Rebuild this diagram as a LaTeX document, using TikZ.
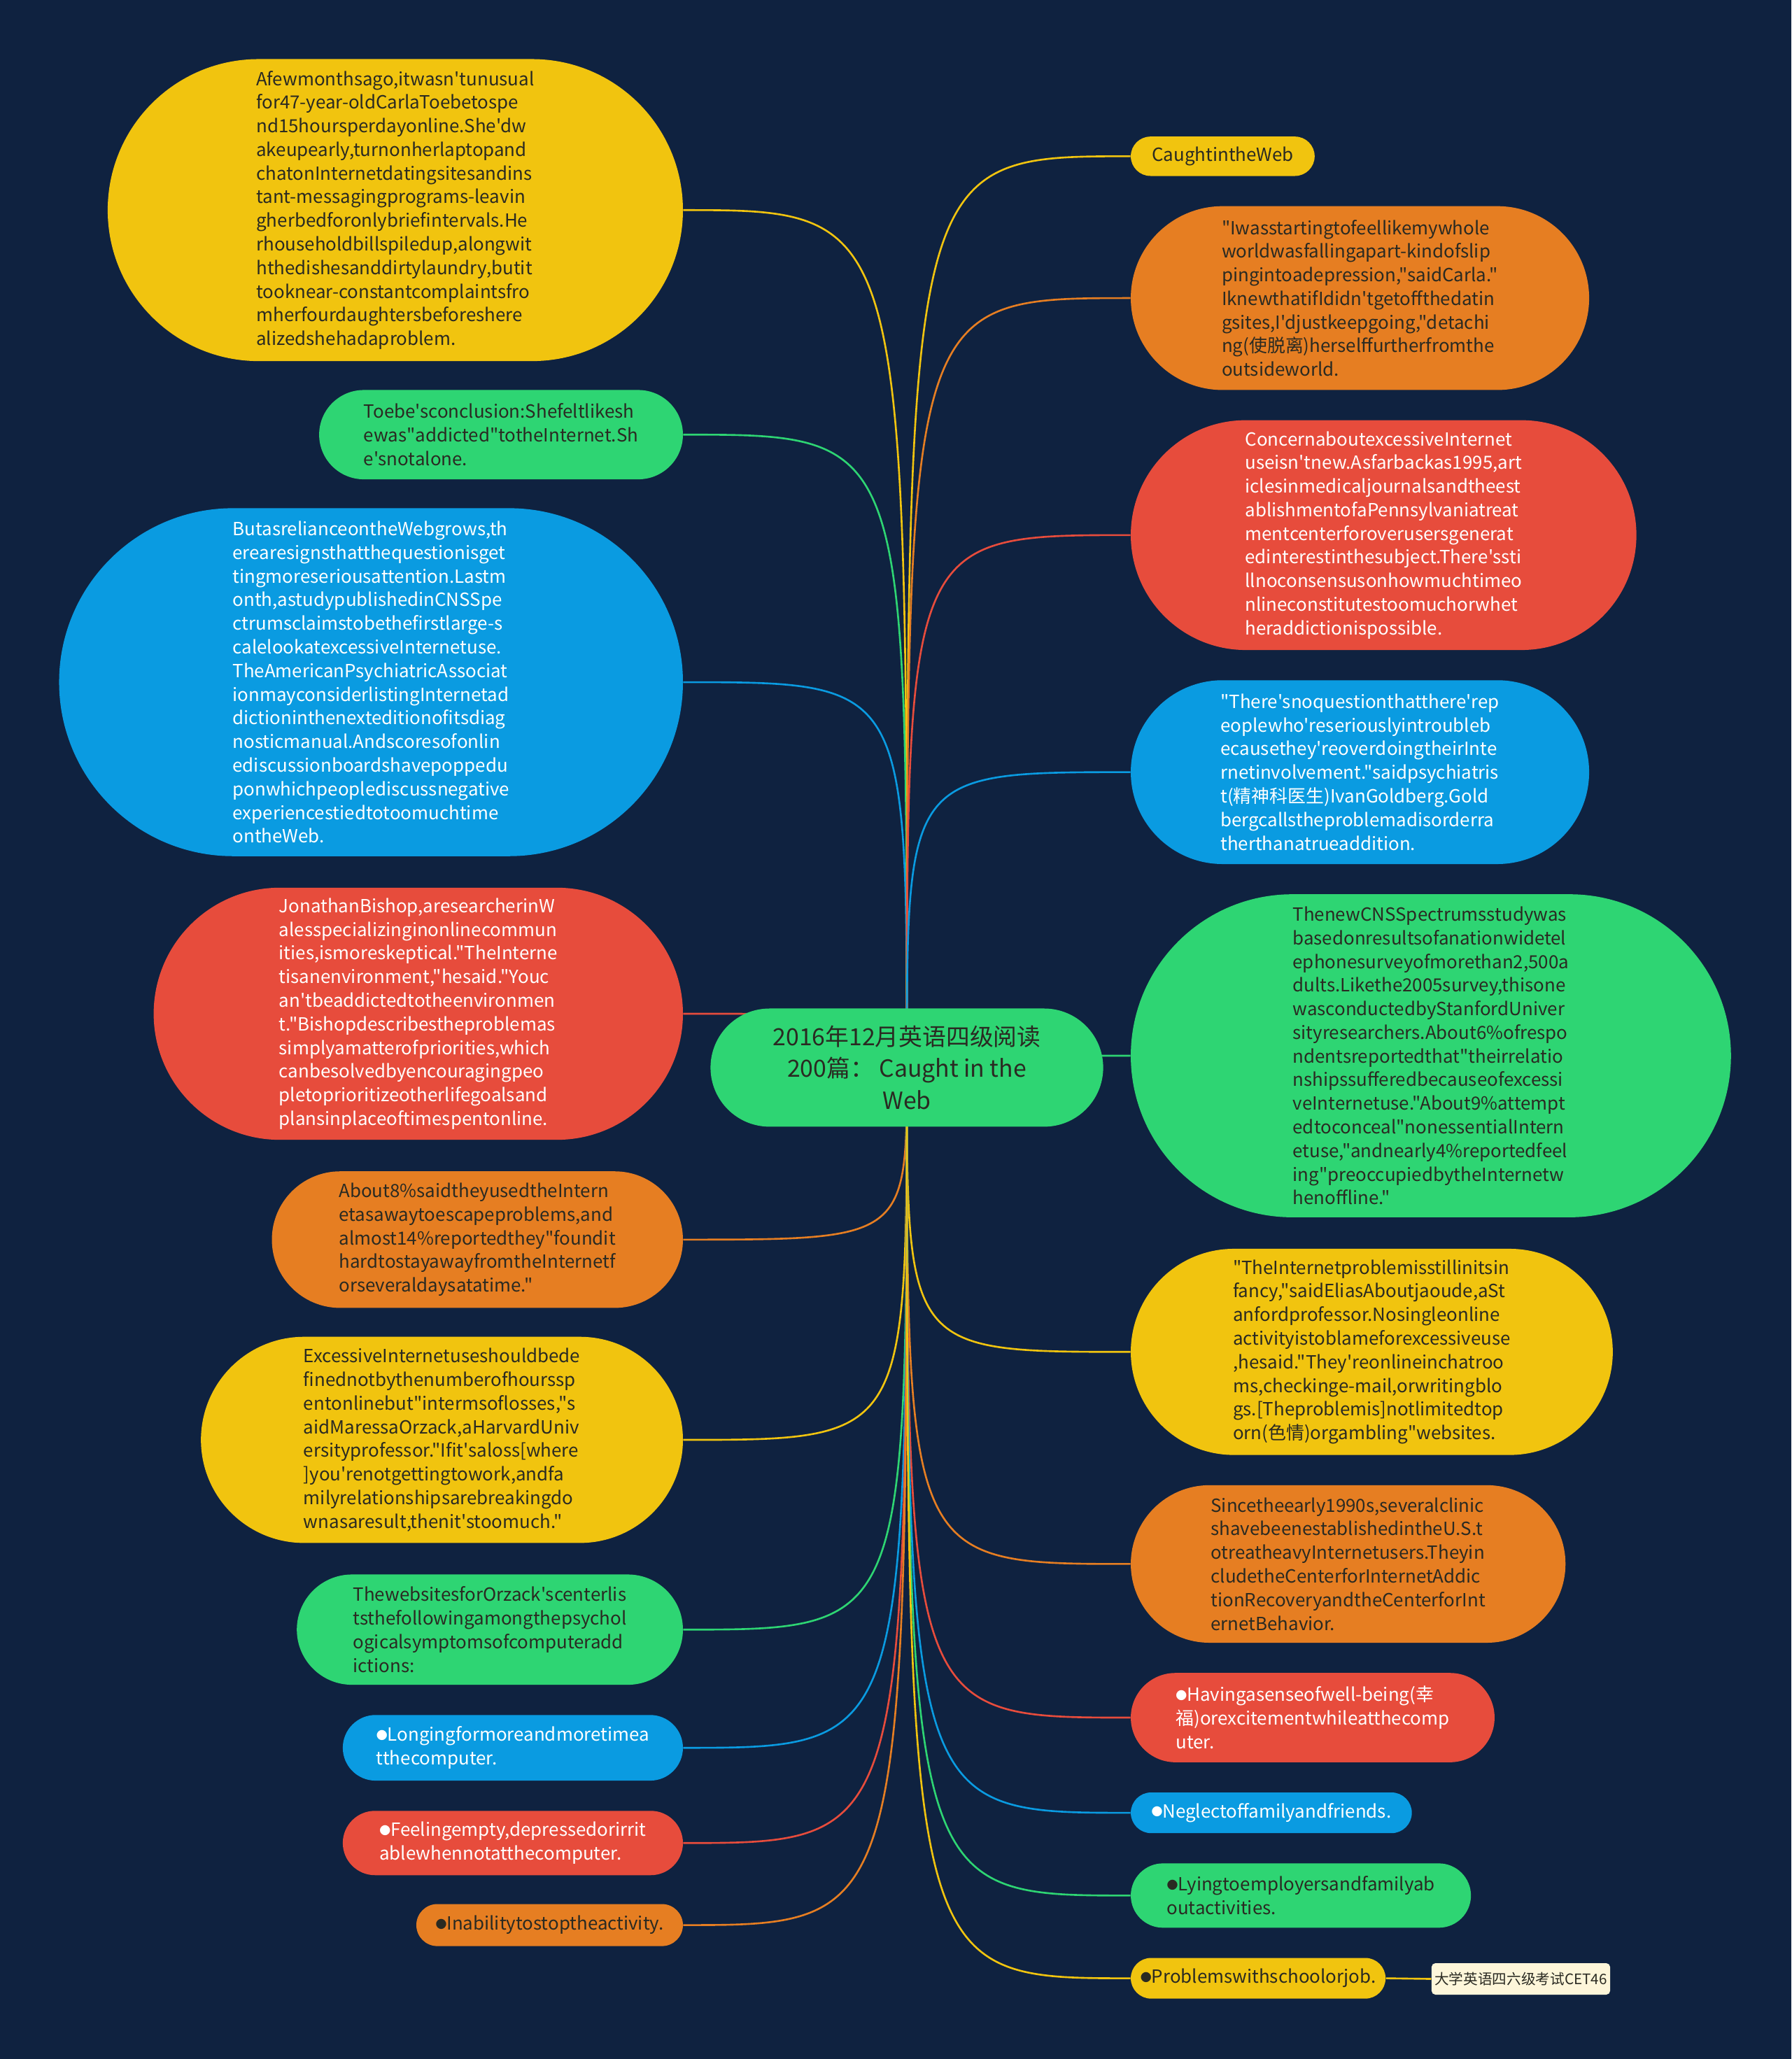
\documentclass[tikz,border=0pt]{standalone}
\usepackage{fontspec}
\newfontfamily\mmfont{Noto Sans CJK SC}
\usetikzlibrary{backgrounds}

\definecolor{bgnavy}{HTML}{0F2240}
\definecolor{cyel}{HTML}{F1C40F}
\definecolor{corg}{HTML}{E67E22}
\definecolor{cred}{HTML}{E74C3C}
\definecolor{cblu}{HTML}{0A9BE1}
\definecolor{cgrn}{HTML}{2ED573}
\definecolor{cink}{HTML}{2A2A22}
\definecolor{ccream}{HTML}{FDF6DA}

\newcommand\bul{\raisebox{1.4pt}{\fontsize{8.5}{8.5}\selectfont ●}}

\tikzset{
  pill/.style 2 args={rectangle, inner sep=0pt, minimum width=#1, minimum height=#2, rounded corners=#2/2, align=left, font=\mmfont\fontsize{13.8}{18}\selectfont},
  yel/.style={fill=cyel, text=cink},
  org/.style={fill=corg, text=cink},
  red/.style={fill=cred, text=white},
  blu/.style={fill=cblu, text=white},
  grn/.style={fill=cgrn, text=cink},
  link/.style={line width=1.4pt},
}

\begin{document}
\begin{tikzpicture}[x=1pt, y=-1pt]
  \node[pill={299}{90}, grn, align=center, font=\mmfont\fontsize{18}{24}\selectfont] (hub) at (690.5,813) {2016年12月英语四级阅读\\200篇： Caught in the\\Web};

  % left branch
  \node[pill={438}{230}, yel] (l1) at (301,160) {Afewmonthsago,itwasn'tunusual\\for47-year-oldCarlaToebetospe\\nd15hoursperdayonline.She'dw\\akeupearly,turnonherlaptopand\\chatonInternetdatingsitesandins\\tant-messagingprograms-leavin\\gherbedforonlybriefintervals.He\\rhouseholdbillspiledup,alongwit\\hthedishesanddirtylaundry,butit\\tooknear-constantcomplaintsfro\\mherfourdaughtersbeforeshere\\alizedshehadaproblem.};
  \node[pill={277}{68}, grn] (l2) at (381.5,331) {Toebe'sconclusion:Shefeltlikesh\\ewas"addicted"totheInternet.Sh\\e'snotalone.};
  \node[pill={475}{265}, blu] (l3) at (282.5,519.5) {ButasrelianceontheWebgrows,th\\erearesignsthatthequestionisget\\tingmoreseriousattention.Lastm\\onth,astudypublishedinCNSSpe\\ctrumsclaimstobethefirstlarge-s\\calelookatexcessiveInternetuse.\\TheAmericanPsychiatricAssociat\\ionmayconsiderlistingInternetad\\dictioninthenexteditionofitsdiag\\nosticmanual.Andscoresofonlin\\ediscussionboardshavepoppedu\\ponwhichpeoplediscussnegative\\experiencestiedtotoomuchtime\\ontheWeb.};
  \node[pill={403}{192}, red] (l4) at (318.5,772) {JonathanBishop,aresearcherinW\\alesspecializinginonlinecommun\\ities,ismoreskeptical."TheInterne\\tisanenvironment,"hesaid."Youc\\an'tbeaddictedtotheenvironmen\\t."Bishopdescribestheproblemas\\simplyamatterofpriorities,which\\canbesolvedbyencouragingpeo\\pletoprioritizeotherlifegoalsand\\plansinplaceoftimespentonline.};
  \node[pill={313}{104}, org] (l5) at (363.5,944) {About8\%saidtheyusedtheIntern\\etasawaytoescapeproblems,and\\almost14\%reportedthey"foundit\\hardtostayawayfromtheInternetf\\orseveraldaysatatime."};
  \node[pill={367}{157}, yel] (l6) at (336.5,1096.5) {ExcessiveInternetuseshouldbede\\finednotbythenumberofhourssp\\entonlinebut"intermsoflosses,"s\\aidMaressaOrzack,aHarvardUniv\\ersityprofessor."Ifit'saloss[where\\]you'renotgettingtowork,andfa\\milyrelationshipsarebreakingdo\\wnasaresult,thenit'stoomuch."};
  \node[pill={294}{84}, grn] (l7) at (373,1241) {ThewebsitesforOrzack'scenterlis\\tsthefollowingamongthepsychol\\ogicalsymptomsofcomputeradd\\ictions:};
  \node[pill={259}{50}, blu] (l8) at (390.5,1331) {\bul Longingformoreandmoretimea\\tthecomputer.};
  \node[pill={259}{49}, red] (l9) at (390.5,1403.5) {\bul Feelingempty,depressedorirrit\\ablewhennotatthecomputer.};
  \node[pill={203}{32}, org] (l10) at (418.5,1466) {\bul Inabilitytostoptheactivity.};

  % right branch
  \node[pill={140}{30}, yel] (r1) at (931,119) {CaughtintheWeb};
  \node[pill={349}{140}, org] (r2) at (1035.5,227) {"Iwasstartingtofeellikemywhole\\worldwasfallingapart-kindofslip\\pingintoadepression,"saidCarla."\\IknewthatifIdidn'tgetoffthedatin\\gsites,I'djustkeepgoing,"detachi\\ng(使脱离)herselffurtherfromthe\\outsideworld.};
  \node[pill={385}{175}, red] (r3) at (1053.5,407.5) {ConcernaboutexcessiveInternet\\useisn'tnew.Asfarbackas1995,art\\iclesinmedicaljournalsandtheest\\ablishmentofaPennsylvaniatreat\\mentcenterforoverusersgenerat\\edinterestinthesubject.There'ssti\\llnoconsensusonhowmuchtimeo\\nlineconstitutestoomuchorwhet\\heraddictionispossible.};
  \node[pill={349}{140}, blu] (r4) at (1035.5,588) {"There'snoquestionthatthere'rep\\eoplewho'reseriouslyintroubleb\\ecausethey'reoverdoingtheirInte\\rnetinvolvement."saidpsychiatris\\t(精神科医生)IvanGoldberg.Gold\\bergcallstheproblemadisorderra\\therthanatrueaddition.};
  \node[pill={457}{246}, grn] (r5) at (1089.5,804) {ThenewCNSSpectrumsstudywas\\basedonresultsofanationwidetel\\ephonesurveyofmorethan2,500a\\dults.Likethe2005survey,thisone\\wasconductedbyStanfordUniver\\sityresearchers.About6\%ofrespo\\ndentsreportedthat"theirrelatio\\nshipssufferedbecauseofexcessi\\veInternetuse."About9\%attempt\\edtoconceal"nonessentialIntern\\etuse,"andnearly4\%reportedfeel\\ing"preoccupiedbytheInternetw\\henoffline."};
  \node[pill={367}{157}, yel] (r6) at (1044.5,1029.5) {"TheInternetproblemisstillinitsin\\fancy,"saidEliasAboutjaoude,aSt\\anfordprofessor.Nosingleonline\\activityistoblameforexcessiveuse\\,hesaid."They'reonlineinchatroo\\ms,checkinge-mail,orwritingblo\\gs.[Theproblemis]notlimitedtop\\orn(色情)orgambling"websites.};
  \node[pill={331}{120}, org] (r7) at (1026.5,1191) {Sincetheearly1990s,severalclinic\\shavebeenestablishedintheU.S.t\\otreatheavyInternetusers.Theyin\\cludetheCenterforInternetAddic\\tionRecoveryandtheCenterforInt\\ernetBehavior.};
  \node[pill={277}{68}, red] (r8) at (999.5,1308) {\bul Havingasenseofwell-being(幸\\福)orexcitementwhileatthecomp\\uter.};
  \node[pill={214}{31}, blu] (r9) at (968,1380.5) {\bul Neglectoffamilyandfriends.};
  \node[pill={259}{49}, grn] (r10) at (990.5,1443.5) {\bul Lyingtoemployersandfamilyab\\outactivities.};
  \node[pill={194}{31}, yel] (r11) at (958,1506.5) {\bul Problemswithschoolorjob.};
  \node[rectangle, inner sep=0pt, rounded corners=3, minimum width=136, minimum height=24, fill=ccream, text=cink, font=\mmfont\fontsize{11}{13}\selectfont] (tag) at (1158,1507) {大学英语四六级考试CET46};

  \begin{scope}[on background layer]
    \fill[bgnavy] (0,0) rectangle (1364,1568);
    \foreach \n/\c in {l1/cyel, l2/cgrn, l3/cblu, l4/cred, l5/corg, l6/cyel, l7/cgrn, l8/cblu, l9/cred, l10/corg}
      \draw[link, draw=\c] (hub.center) .. controls (hub.center |- \n.east) .. (\n.east);
    \foreach \n/\c in {r1/cyel, r2/corg, r3/cred, r4/cblu, r5/cgrn, r6/cyel, r7/corg, r8/cred, r9/cblu, r10/cgrn, r11/cyel}
      \draw[link, draw=\c] (hub.center) .. controls (hub.center |- \n.west) .. (\n.west);
  \end{scope}
  \draw[link, draw=cyel] (r11.east) -- (tag.west);
\end{tikzpicture}
\end{document}
